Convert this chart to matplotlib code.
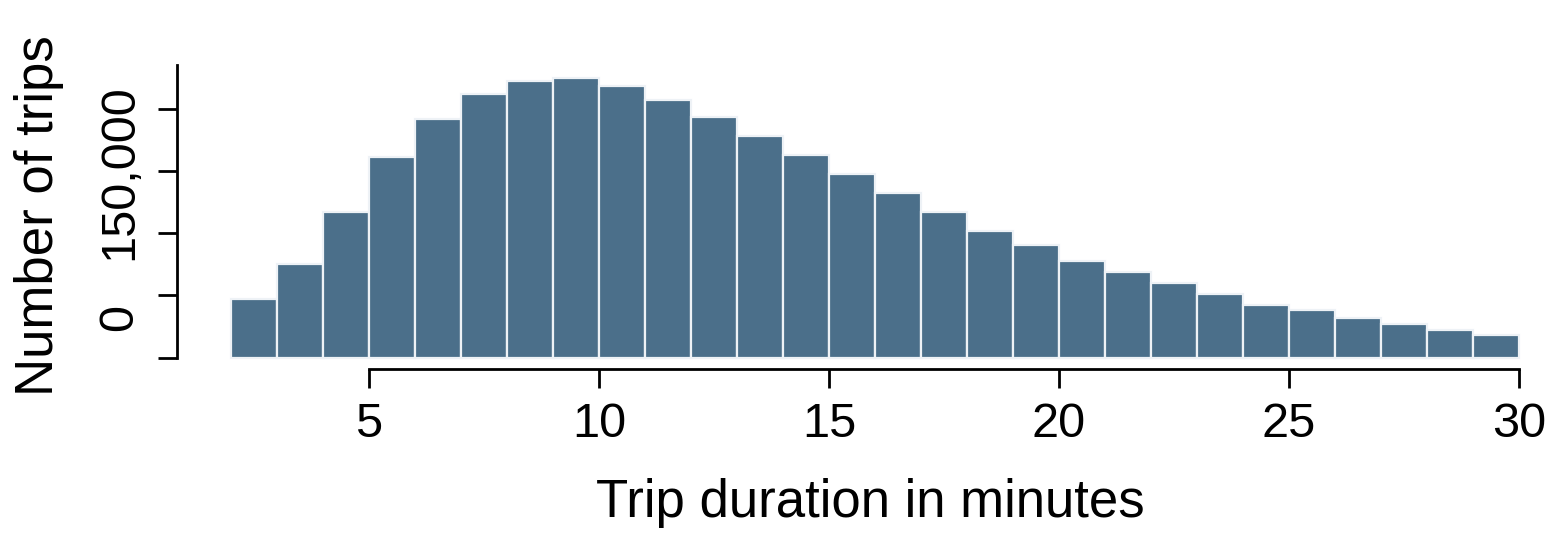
import matplotlib
matplotlib.use('Agg')
import matplotlib.pyplot as plt
import numpy as np

plt.rcParams['font.family'] = ['Liberation Sans', 'DejaVu Sans']

# 1-minute bins from 2 to 30 minutes
bin_edges = list(range(2, 31))
trip_counts = [46900, 75300, 116900, 161200, 191800, 211900, 222600, 224800,
               218400, 207300, 193900, 178600, 163300, 147800, 132500, 116900,
               101600, 90600, 77500, 68600, 59700, 51100, 42300, 38000,
               31600, 27000, 22400, 18100]
x_ticks = [5, 10, 15, 20, 25, 30]
y_ticks = [0, 50000, 100000, 150000, 200000]
y_labels = ['0', '150,000']
y_label_pos = [32600, 149600]

W, H = 1557, 538
fig = plt.figure(figsize=(W / 100, H / 100), dpi=100)

# axes box in pixels (left, top, right, bottom)
left, top, right, bottom = 177, 65, 1557, 369
ax = fig.add_axes([left / W, 1 - bottom / H, (right - left) / W, (bottom - top) / H])

ax.bar(bin_edges[:-1], trip_counts, width=1, align='edge',
       color='#4b6f8a', edgecolor='#eef2f6', linewidth=1.6)

ax.set_xlim(5 - (369 - left) / 46, 5 + (right - 369) / 46)
px_per_unit = 62.1 / 50000
ax.set_ylim(-(bottom - 357.5) / px_per_unit, (357.5 - top) / px_per_unit)

for s in ['top', 'right']:
    ax.spines[s].set_visible(False)
ax.spines['left'].set_linewidth(2)
ax.spines['bottom'].set_linewidth(2)
ax.spines['bottom'].set_bounds(5, 30)
ax.spines['left'].set_bounds(0, ax.get_ylim()[1])

ax.set_xticks(x_ticks)
ax.set_xticklabels([str(t) for t in x_ticks])
ax.set_yticks(y_ticks)
ax.set_yticklabels([])
ax.tick_params(axis='both', length=14, width=2, direction='out')
ax.tick_params(axis='x', labelsize=35, pad=10)

# y tick labels sit off the ticks in the original, so place them by hand
ytrans = matplotlib.transforms.blended_transform_factory(
    matplotlib.transforms.IdentityTransform(), ax.transData)
for lab, yv in zip(y_labels, y_label_pos):
    ax.text(132, yv, lab, transform=ytrans, rotation=90, rotation_mode='anchor',
            ha='center', va='baseline', fontsize=35, clip_on=False)

fig.text(870 / W, 1 - 517 / H, 'Trip duration in minutes', ha='center',
         va='baseline', fontsize=38)
fig.text(53 / W, 1 - 216 / H, 'Number of trips', ha='center', va='baseline',
         rotation=90, rotation_mode='anchor', fontsize=38)

fig.savefig('out.png', dpi=100)
